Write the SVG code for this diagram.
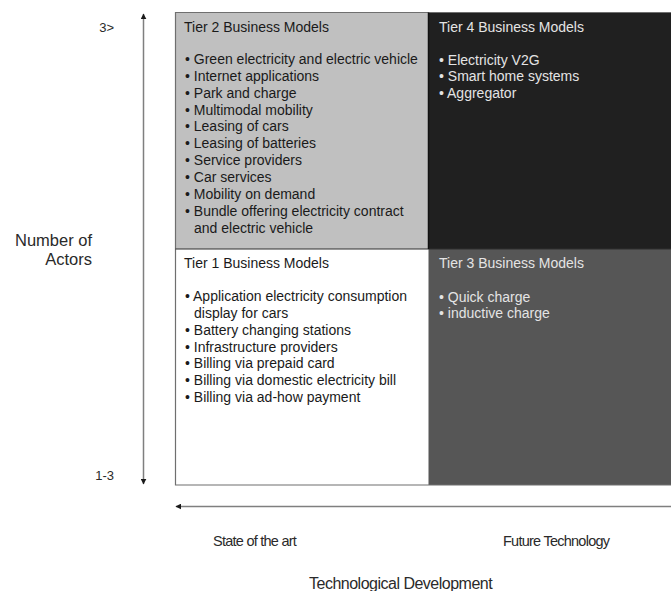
<svg xmlns="http://www.w3.org/2000/svg" width="671" height="591" viewBox="0 0 671 591">
  <style>
    text { font-family: "Liberation Sans", Arial, sans-serif; }
    .q { font-size: 14px; }
    .dark { fill: #1a1a1a; }
    .light { fill: #e4e4e4; }
    .axis { fill: #2a2a2a; }
    .tick { font-size: 13px; }
    .side { font-size: 16.5px; text-anchor: end; }
    .end { font-size: 14.5px; letter-spacing: -0.75px; }
    .title { font-size: 16px; letter-spacing: -0.5px; }
    .arrow { stroke: #7f7f7f; stroke-width: 1.5; fill: none; }
  </style>
  <defs>
    <marker id="head" viewBox="0 0 10 10" refX="9" refY="5" markerWidth="6" markerHeight="6" orient="auto-start-reverse" markerUnits="userSpaceOnUse">
      <path d="M0,0 L10,5 L0,10 Z" fill="#1a1a1a"/>
    </marker>
  </defs>

  <rect width="671" height="591" fill="#ffffff"/>

  <!-- axis arrows -->
  <g id="connectors">
    <line class="arrow" x1="143.5" y1="14" x2="143.5" y2="484" marker-start="url(#head)" marker-end="url(#head)"/>
    <line class="arrow" x1="671" y1="506.5" x2="176" y2="506.5" marker-end="url(#head)"/>
  </g>

  <!-- Tier 2: top left -->
  <g id="tier2">
    <rect x="175" y="12.5" width="253.5" height="236.5" fill="#c0c0c0"/>
    <text class="q dark" x="184" y="32">Tier 2 Business Models</text>
    <text class="q dark">
      <tspan x="185" y="64">• Green electricity and electric vehicle</tspan>
      <tspan x="185" y="80.9">• Internet applications</tspan>
      <tspan x="185" y="97.7">• Park and charge</tspan>
      <tspan x="185" y="114.6">• Multimodal mobility</tspan>
      <tspan x="185" y="131.4">• Leasing of cars</tspan>
      <tspan x="185" y="148.3">• Leasing of batteries</tspan>
      <tspan x="185" y="165.1">• Service providers</tspan>
      <tspan x="185" y="182">• Car services</tspan>
      <tspan x="185" y="198.8">• Mobility on demand</tspan>
      <tspan x="185" y="215.7">• Bundle offering electricity contract</tspan>
      <tspan x="194" y="232.5">and electric vehicle</tspan>
    </text>
  </g>

  <!-- Tier 4: top right -->
  <g id="tier4">
    <rect x="428.5" y="12.5" width="242.5" height="236.5" fill="#202020"/>
    <text class="q light" x="439" y="32">Tier 4 Business Models</text>
    <text class="q light">
      <tspan x="439" y="64.5">• Electricity V2G</tspan>
      <tspan x="439" y="81.3">• Smart home systems</tspan>
      <tspan x="439" y="98.2">• Aggregator</tspan>
    </text>
  </g>

  <!-- Tier 1: bottom left -->
  <g id="tier1">
    <rect x="175" y="249" width="253.5" height="236" fill="#ffffff"/>
    <text class="q dark" x="184" y="268">Tier 1 Business Models</text>
    <text class="q dark">
      <tspan x="185" y="301">• Application electricity consumption</tspan>
      <tspan x="194" y="317.9">display for cars</tspan>
      <tspan x="185" y="334.7">• Battery changing stations</tspan>
      <tspan x="185" y="351.6">• Infrastructure providers</tspan>
      <tspan x="185" y="368.4">• Billing via prepaid card</tspan>
      <tspan x="185" y="385.3">• Billing via domestic electricity bill</tspan>
      <tspan x="185" y="402.1">• Billing via ad-how payment</tspan>
    </text>
  </g>

  <!-- Tier 3: bottom right -->
  <g id="tier3">
    <rect x="428.5" y="249" width="242.5" height="236" fill="#565656"/>
    <text class="q light" x="439" y="268">Tier 3 Business Models</text>
    <text class="q light">
      <tspan x="439" y="301.5">• Quick charge</tspan>
      <tspan x="439" y="318.3">• inductive charge</tspan>
    </text>
  </g>

  <!-- matrix frame and dividers -->
  <g id="frame" fill="none">
    <path d="M671,12.5 H175.5 V485 H671" stroke="#6f6f6f" stroke-width="1.2"/>
    <line x1="175.5" y1="249" x2="671" y2="249" stroke="#2e2e2e" stroke-width="1.2"/>
    <line x1="428.5" y1="12.5" x2="428.5" y2="249" stroke="#111111" stroke-width="1.5"/>
  </g>

  <!-- axis labels -->
  <g id="labels">
    <text class="tick axis" x="114" y="32" text-anchor="end">3&gt;</text>
    <text class="tick axis" x="114" y="480" text-anchor="end">1-3</text>
    <text class="side axis" x="92" y="246">Number of</text>
    <text class="side axis" x="92" y="265">Actors</text>
    <text class="end axis" x="213" y="546">State of the art</text>
    <text class="end axis" x="503" y="546">Future Technology</text>
    <text class="title axis" x="309" y="589">Technological Development</text>
  </g>
</svg>
